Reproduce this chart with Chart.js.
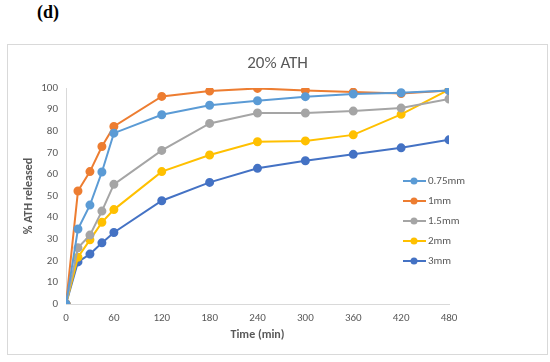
<!DOCTYPE html>
<html>
<head>
<meta charset="utf-8">
<script src="https://cdn.jsdelivr.net/npm/chart.js@4"></script>
<style>
  body { margin: 0; background: #fff; width: 550px; height: 362px; position: relative; overflow: hidden; }
  #label { position: absolute; left: 37px; top: 2px; font: bold 18px "Liberation Serif", serif; color: #000; }
  #box { position: absolute; left: 7px; top: 44px; width: 539px; height: 309px; border: 1px solid #d9d9d9; }
  canvas { display: block; }
</style>
</head>
<body>
<div id="label">(d)</div>
<div id="box"><canvas id="myChart" width="539" height="309"></canvas></div>
<script>
// Time points (min)
const times = [0, 15, 30, 45, 60, 120, 180, 240, 300, 360, 420, 480]
const seriesNames = ['0.75mm', '1mm', '1.5mm', '2mm', '3mm']
const seriesColors = ['#5b9bd5', '#ed7d31', '#a5a5a5', '#ffc000', '#4472c4']

// % ATH released
const release075 = [0, 34.7, 45.8, 61.1, 79.1, 87.6, 92.0, 94.1, 96.0, 97.2, 97.8, 98.8]
const release1 = [0, 52.3, 61.3, 72.9, 82.2, 96.1, 98.6, 99.8, 98.9, 98.1, 97.4, 98.8]
const release15 = [0, 26.0, 31.9, 43.0, 55.4, 71.1, 83.6, 88.4, 88.4, 89.3, 90.7, 94.9]
const release2 = [0, 21.7, 29.7, 37.8, 43.7, 61.3, 69.0, 75.1, 75.5, 78.3, 87.8, 99.2]
const release3 = [0, 19.5, 23.1, 28.3, 33.1, 47.8, 56.3, 62.8, 66.3, 69.3, 72.3, 76.0]
const allSeries = [release075, release1, release15, release2, release3]

const xTicks = [0, 60, 120, 180, 240, 300, 360, 420, 480]

const chartTitle = '20% ATH'
const grey = '#595959'
const font = 'Carlito, "Open Sans", "Liberation Sans", sans-serif'

// Title centred on the whole frame + Excel style legend (short line with marker)
const frameExtras = {
    id: 'frameExtras',
    afterDraw(chart) {
        const ctx = chart.ctx
        ctx.save()
        ctx.fillStyle = grey
        ctx.font = '17px ' + font
        ctx.textAlign = 'center'
        ctx.textBaseline = 'middle'
        ctx.fillText(chartTitle, chart.width / 2, 19)

        ctx.textAlign = 'left'
        chart.data.datasets.forEach((ds, i) => {
            const y = 136 + i * 20
            ctx.strokeStyle = ds.borderColor
            ctx.lineWidth = 2
            ctx.beginPath()
            ctx.moveTo(395, y)
            ctx.lineTo(418, y)
            ctx.stroke()
            ctx.fillStyle = ds.borderColor
            ctx.beginPath()
            ctx.arc(406, y, 3.5, 0, Math.PI * 2)
            ctx.fill()
            ctx.fillStyle = grey
            ctx.font = '11px ' + font
            ctx.fillText(ds.label, 420, y + 0.5)
        })
        ctx.restore()
    }
}

const datasets = seriesNames.map((name, i) => ({
    label: name,
    data: times.map((t, j) => ({ x: t, y: allSeries[i][j] })),
    borderColor: seriesColors[i],
    backgroundColor: seriesColors[i],
    borderWidth: 2,
    pointRadius: 3.5,
    pointHoverRadius: 3.5,
    tension: 0
}))

const ctx = document.getElementById('myChart').getContext('2d')
const myChart = new Chart(ctx, {
    type: 'line',
    data: { datasets: datasets },
    options: {
        responsive: false,
        animation: false,
        layout: { padding: { left: 14, right: 98, top: 43, bottom: 12 } },
        plugins: {
            legend: { display: false },
            tooltip: { enabled: false },
            title: { display: false }
        },
        scales: {
            x: {
                type: 'linear',
                min: 0,
                max: 480,
                afterBuildTicks: (axis) => { axis.ticks = xTicks.map(v => ({ value: v })) },
                grid: { display: false, drawTicks: false },
                border: { color: '#d9d9d9', width: 1 },
                ticks: { color: grey, font: { family: font, size: 11 }, padding: 8, maxRotation: 0 },
                title: {
                    display: true,
                    text: 'Time (min)',
                    color: grey,
                    font: { family: font, size: 12, weight: 'bold' },
                    padding: { top: 0, bottom: 0 }
                },
                afterFit: (axis) => { axis.height = 38 }
            },
            y: {
                min: 0,
                max: 100,
                ticks: { stepSize: 10, color: grey, font: { family: font, size: 11 }, padding: 8 },
                grid: { display: false, drawTicks: false },
                border: { color: '#d9d9d9', width: 1 },
                title: {
                    display: true,
                    text: '% ATH released',
                    color: grey,
                    font: { family: font, size: 12, weight: 'bold' },
                    padding: { top: 0, bottom: 0 }
                },
                afterFit: (axis) => { axis.width = 44 }
            }
        }
    },
    plugins: [frameExtras]
})
</script>
</body>
</html>
